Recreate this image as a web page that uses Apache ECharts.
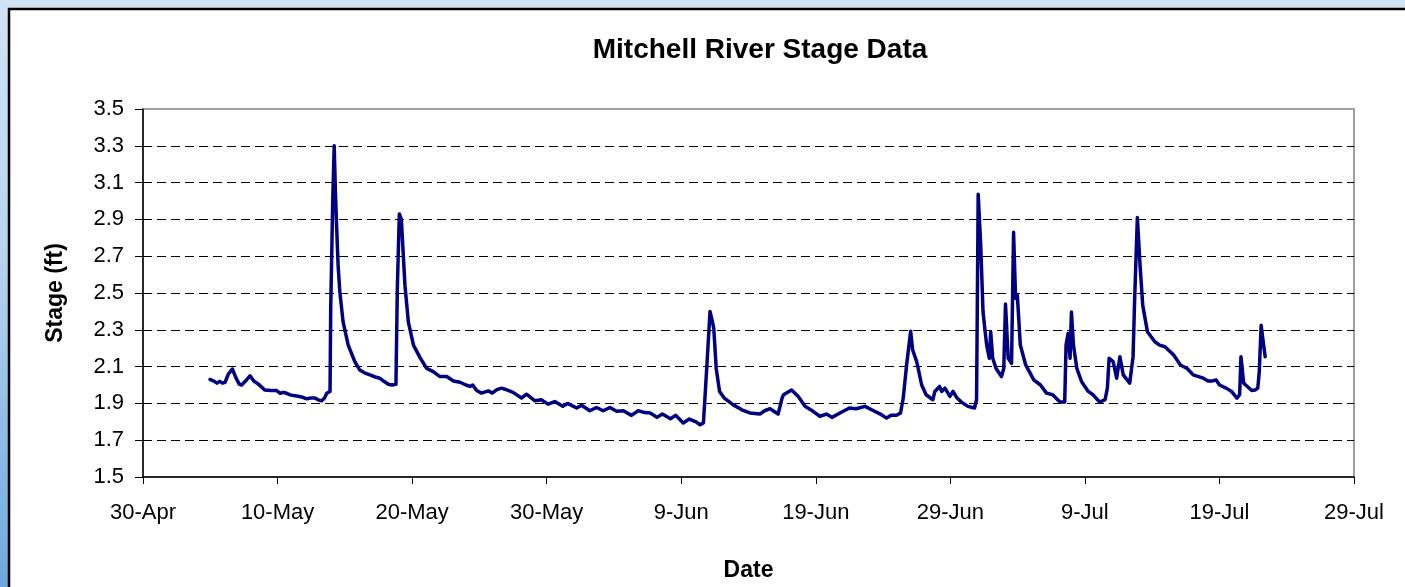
<!DOCTYPE html>
<html>
<head>
<meta charset="utf-8">
<title>Mitchell River Stage Data</title>
<script src="https://cdn.jsdelivr.net/npm/echarts@6/dist/echarts.min.js"></script>
<style>
  html, body {
    margin: 0;
    padding: 0;
    width: 1405px;
    height: 587px;
    overflow: hidden;
    background: linear-gradient(180deg, #d0e4f5 0%, #b4d3ef 45%, #6ea9dd 100%);
  }
  #chart { width: 1405px; height: 587px; }
</style>
</head>
<body>
<div id="chart"></div>
<script>
// Date axis: days counted from 30-Apr, one label every 10 days
const tickLabels = ['30-Apr', '10-May', '20-May', '30-May', '9-Jun', '19-Jun', '29-Jun', '9-Jul', '19-Jul', '29-Jul'];

// Stage readings: time in days since 30-Apr, stage in feet
const stageDay = [
  4.98, 5.3, 5.5, 5.7, 5.9, 6.1, 6.35, 6.64, 6.9, 7.15, 7.33, 7.6, 7.95, 8.25, 8.57, 8.8,
  9.04, 9.5, 9.93, 10.2, 10.45, 10.67, 11.0, 11.42, 11.8, 12.16, 12.5, 12.78, 13.05, 13.28,
  13.5, 13.65, 13.9, 13.95, 14.1, 14.21, 14.3, 14.38, 14.5, 14.63, 14.87, 15.25, 15.74,
  16.1, 16.5, 16.87, 17.2, 17.6, 17.9, 18.23, 18.5, 18.8, 18.87, 18.9, 19.05, 19.2, 19.47,
  19.72, 20.1, 20.58, 21.08, 21.57, 22.07, 22.57, 23.07, 23.56, 24.0, 24.3, 24.5, 24.8,
  25.15, 25.66, 25.95, 26.3, 26.65, 26.9, 27.5, 28.13, 28.5, 29.13, 29.6, 30.1, 30.6, 31.2,
  31.55, 32.23, 32.6, 33.2, 33.7, 34.2, 34.7, 35.2, 35.7, 36.3, 36.8, 37.3, 37.7, 38.2,
  38.6, 39.2, 39.6, 40.15, 40.6, 41.1, 41.4, 41.65, 41.75, 41.88, 42.14, 42.32, 42.42,
  42.6, 42.85, 43.2, 43.87, 44.5, 45.1, 45.85, 46.2, 46.6, 47.2, 47.5, 47.6, 48.2, 48.7,
  49.2, 49.8, 50.3, 50.8, 51.2, 51.8, 52.5, 53.0, 53.66, 54.3, 54.8, 55.26, 55.6, 56.0,
  56.3, 56.5, 56.75, 57.05, 57.2, 57.5, 57.87, 58.2, 58.7, 58.85, 59.2, 59.35, 59.6, 59.97,
  60.2, 60.5, 60.83, 61.3, 61.8, 61.95, 62.07, 62.26, 62.43, 62.7, 62.9, 63.0, 63.15, 63.4,
  63.8, 63.97, 64.1, 64.3, 64.55, 64.7, 64.85, 64.98, 65.2, 65.6, 66.2, 66.7, 67.15, 67.6,
  68.15, 68.5, 68.6, 68.75, 68.9, 69.0, 69.15, 69.4, 69.75, 70.25, 70.6, 71.1, 71.5, 71.67,
  71.8, 72.1, 72.36, 72.6, 72.85, 73.33, 73.58, 73.7, 73.9, 74.1, 74.3, 74.65, 75.2, 75.55,
  75.95, 76.6, 77.1, 77.6, 78.05, 78.8, 79.15, 79.5, 79.75, 80.0, 80.5, 80.9, 81.3, 81.5,
  81.6, 81.8, 81.95, 82.4, 82.65, 82.85, 82.96, 83.1, 83.22, 83.4
];
const stageFt = [
  2.03, 2.02, 2.01, 2.02, 2.01, 2.015, 2.06, 2.087, 2.04, 2.005, 2.00, 2.02, 2.05, 2.02, 2.005, 1.99,
  1.973, 1.97, 1.97, 1.955, 1.96, 1.955, 1.945, 1.94, 1.935, 1.925, 1.93, 1.93, 1.918, 1.914,
  1.93, 1.955, 1.965, 2.415, 3.0, 3.30, 3.05, 2.88, 2.65, 2.505, 2.343, 2.217, 2.127,
  2.082, 2.065, 2.055, 2.045, 2.037, 2.02, 2.004, 2.00, 2.004, 2.00, 2.52, 2.93, 2.90, 2.54,
  2.343, 2.217, 2.15, 2.09, 2.073, 2.046, 2.046, 2.022, 2.015, 2.00, 1.992, 2.00, 1.97,
  1.956, 1.968, 1.956, 1.975, 1.983, 1.977, 1.96, 1.929, 1.95, 1.914, 1.92, 1.896, 1.91, 1.884,
  1.90, 1.875, 1.89, 1.86, 1.878, 1.86, 1.878, 1.857, 1.86, 1.835, 1.86, 1.85, 1.848, 1.824,
  1.842, 1.817, 1.835, 1.794, 1.815, 1.80, 1.784, 1.794, 1.80, 2.073, 2.40, 2.343, 2.307,
  2.09, 1.965, 1.929, 1.892, 1.865, 1.848, 1.842, 1.86, 1.871, 1.842, 1.93, 1.947, 1.973, 1.938,
  1.884, 1.857, 1.83, 1.842, 1.824, 1.848, 1.875, 1.871, 1.884, 1.86, 1.842, 1.82, 1.835, 1.835,
  1.848, 1.929, 2.109, 2.292, 2.19, 2.127, 2.00, 1.947, 1.92, 1.965, 1.992, 1.965, 1.983, 1.938,
  1.965, 1.929, 1.907, 1.884, 1.875, 1.92, 3.037, 2.757, 2.397, 2.217, 2.145, 2.289, 2.145, 2.09,
  2.046, 2.09, 2.44, 2.145, 2.118, 2.83, 2.47, 2.487, 2.217, 2.109, 2.028, 2.00, 1.956, 1.947,
  1.907, 1.907, 2.217, 2.28, 2.145, 2.397, 2.217, 2.09, 2.019, 1.965, 1.947, 1.907, 1.92, 1.983,
  2.145, 2.127, 2.037, 2.154, 2.055, 2.01, 2.154, 2.47, 2.91, 2.65, 2.433, 2.289, 2.235, 2.217,
  2.208, 2.163, 2.109, 2.09, 2.055, 2.037, 2.022, 2.022, 2.028, 2.00, 1.983, 1.965, 1.929, 1.947,
  2.154, 2.01, 2.00, 1.97, 1.973, 1.983, 2.073, 2.325, 2.253, 2.154
];

const FONT = '"Liberation Sans", Arial, Helvetica, sans-serif';
const series = stageDay.map((d, i) => [d, stageFt[i]]);

const chart = echarts.init(document.getElementById('chart'), null, { renderer: 'canvas' });

chart.setOption({
  backgroundColor: 'transparent',
  animation: false,
  textStyle: { fontFamily: FONT },
  graphic: [{
    type: 'rect',
    z: -10,
    silent: true,
    shape: { x: 9, y: 9, width: 1420, height: 600 },
    style: { fill: '#ffffff', stroke: '#000000', lineWidth: 2.5 }
  }],
  title: {
    text: 'Mitchell River Stage Data',
    left: 755,
    top: 31,
    textAlign: 'center',
    textStyle: { fontFamily: FONT, fontSize: 28, fontWeight: 'bold', color: '#000' }
  },
  grid: {
    left: 143,
    right: 51,
    top: 109,
    bottom: 108,
    show: true,
    backgroundColor: 'transparent',
    borderColor: '#808080',
    borderWidth: 1.5
  },
  xAxis: {
    type: 'value',
    min: 0,
    max: 90,
    interval: 10,
    name: 'Date',
    nameLocation: 'middle',
    nameGap: 82,
    nameTextStyle: { fontFamily: FONT, fontSize: 23, fontWeight: 'bold', color: '#000' },
    axisLine: { show: true, onZero: false, lineStyle: { color: '#000', width: 1.5 } },
    axisTick: { show: true, inside: false, length: 7, lineStyle: { color: '#000', width: 1 } },
    axisLabel: {
      margin: 25,
      fontFamily: FONT,
      fontSize: 22,
      color: '#000',
      showMinLabel: true,
      showMaxLabel: true,
      formatter: v => tickLabels[Math.round(v / 10)]
    },
    splitLine: { show: false }
  },
  yAxis: {
    type: 'value',
    min: 1.5,
    max: 3.5,
    interval: 0.2,
    name: 'Stage (ft)',
    nameLocation: 'middle',
    nameGap: 76,
    nameTextStyle: { fontFamily: FONT, fontSize: 23, fontWeight: 'bold', color: '#000' },
    axisLine: { show: true, lineStyle: { color: '#000', width: 1.5 } },
    axisTick: { show: true, inside: false, length: 8, lineStyle: { color: '#000', width: 1 } },
    axisLabel: {
      margin: 19,
      fontFamily: FONT,
      fontSize: 22,
      color: '#000',
      formatter: v => v.toFixed(1)
    },
    splitLine: {
      show: true,
      showMinLine: false,
      showMaxLine: false,
      lineStyle: { color: '#000', width: 1, type: [9, 5] }
    }
  },
  series: [{
    type: 'line',
    data: series,
    showSymbol: false,
    smooth: false,
    lineStyle: { color: '#000080', width: 3.5, join: 'round', cap: 'round' },
    itemStyle: { color: '#000080' }
  }]
});
</script>
</body>
</html>
